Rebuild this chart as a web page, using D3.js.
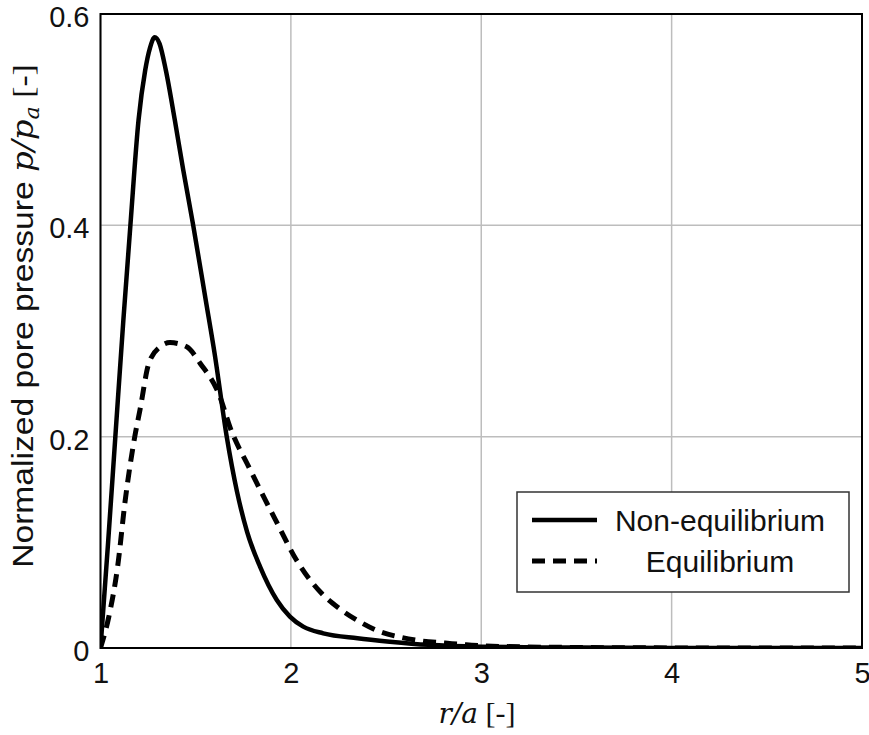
<!DOCTYPE html>
<html>
<head>
<meta charset="utf-8">
<script src="https://cdn.jsdelivr.net/npm/d3@7"></script>
<style>
  body { margin: 0; background: #fff; }
  svg { display: block; }
</style>
</head>
<body>
<div class="chart"></div>
<script>
// data
const xTicks = [1, 2, 3, 4, 5];
const yTicks = [0, 0.2, 0.4, 0.6];
const yTickLabels = ['0', '0.2', '0.4', '0.6'];

const rNonEq = [1, 1.04, 1.078, 1.12, 1.157, 1.2, 1.235, 1.26, 1.285, 1.31, 1.343, 1.39, 1.435, 1.487,
  1.553, 1.6, 1.663, 1.717, 1.77, 1.838, 1.926, 1.995, 2.065, 2.17, 2.35, 2.52, 2.72, 3.0, 3.5, 4, 5];
const pNonEq = [0, 0.1, 0.2, 0.31, 0.4, 0.5, 0.547, 0.568, 0.578, 0.572, 0.547, 0.5, 0.452, 0.4,
  0.329, 0.278, 0.2, 0.148, 0.11, 0.077, 0.0454, 0.0297, 0.0202, 0.0139, 0.0092, 0.006, 0.003, 0.0012, 0.0004, 0.0001, 0];

const rEq = [1, 1.043, 1.09, 1.13, 1.18, 1.207, 1.254, 1.313, 1.365, 1.453, 1.523, 1.627, 1.68, 1.78,
  1.92, 2.03, 2.16, 2.25, 2.36, 2.46, 2.58, 2.69, 2.81, 2.92, 3.1, 3.5, 4, 5];
const pEq = [0, 0.029, 0.077, 0.14, 0.2, 0.225, 0.2695, 0.285, 0.289, 0.285, 0.2695, 0.238, 0.209, 0.171,
  0.121, 0.083, 0.052, 0.038, 0.025, 0.016, 0.010, 0.0066, 0.0047, 0.003, 0.0015, 0.0005, 0.0001, 0];

const seriesNames = ['Non-equilibrium', 'Equilibrium'];

const Width = 869;
const Height = 735;
const plotL = 100.5, plotR = 862, plotT = 14, plotB = 648;

const X = d3.scaleLinear().domain([1, 5]).range([plotL, plotR]);
const Y = d3.scaleLinear().domain([0, 0.6]).range([plotB, plotT]);

const svg = d3.select('.chart').append('svg').attr('width', Width).attr('height', Height);

svg.append('clipPath').attr('id', 'plot-clip').append('rect')
  .attr('x', plotL).attr('y', plotT).attr('width', plotR - plotL).attr('height', plotB - plotT);

// grid
const grid = svg.append('g');
grid.selectAll('.gx').data(xTicks).enter().append('line')
  .attr('x1', d => X(d)).attr('x2', d => X(d)).attr('y1', plotT).attr('y2', plotB)
  .attr('stroke', '#bdbdbd').attr('stroke-width', 1.5);
grid.selectAll('.gy').data(yTicks).enter().append('line')
  .attr('x1', plotL).attr('x2', plotR).attr('y1', d => Y(d)).attr('y2', d => Y(d))
  .attr('stroke', '#bdbdbd').attr('stroke-width', 1.5);

// axes (tick labels only, frame drawn separately)
const xAxis = svg.append('g').attr('transform', 'translate(0,' + plotB + ')')
  .call(d3.axisBottom(X).tickValues(xTicks).tickSize(0).tickPadding(14).tickFormat(d3.format('d')));
const yAxis = svg.append('g').attr('transform', 'translate(' + plotL + ',0)')
  .call(d3.axisLeft(Y).tickValues(yTicks).tickSize(0).tickPadding(11).tickFormat((d, i) => yTickLabels[i]));
[xAxis, yAxis].forEach(a => {
  a.select('.domain').remove();
  a.selectAll('text').attr('font-family', 'Liberation Sans, Arial, sans-serif').attr('font-size', 29).attr('fill', '#111');
});
xAxis.selectAll('text').attr('dy', '0.71em');
yAxis.selectAll('text').attr('dy', '0.43em');

// curves
const line = d3.line().x(d => X(d[0])).y(d => Y(d[1])).curve(d3.curveMonotoneX);
const plot = svg.append('g').attr('clip-path', 'url(#plot-clip)');
plot.append('path').datum(d3.zip(rEq, pEq)).attr('d', line)
  .attr('fill', 'none').attr('stroke', '#000').attr('stroke-width', 5).attr('stroke-dasharray', '13,8');
plot.append('path').datum(d3.zip(rNonEq, pNonEq)).attr('d', line)
  .attr('fill', 'none').attr('stroke', '#000').attr('stroke-width', 4.5).attr('stroke-linejoin', 'round');

// frame
svg.append('rect').attr('x', plotL).attr('y', plotT).attr('width', plotR - plotL).attr('height', plotB - plotT)
  .attr('fill', 'none').attr('stroke', '#000').attr('stroke-width', 2);

// legend
const lg = svg.append('g');
lg.append('rect').attr('x', 517).attr('y', 492).attr('width', 332).attr('height', 100)
  .attr('fill', '#fff').attr('stroke', '#333').attr('stroke-width', 1.5);
const rows = lg.selectAll('.row').data(seriesNames).enter().append('g')
  .attr('transform', (d, i) => 'translate(0,' + (520 + i * 41) + ')');
rows.append('line').attr('x1', 532).attr('x2', 597).attr('y1', 0).attr('y2', 0)
  .attr('stroke', '#000').attr('stroke-width', (d, i) => i === 0 ? 4.5 : 5)
  .attr('stroke-dasharray', (d, i) => i === 0 ? null : '13,8');
rows.append('text').attr('x', 720).attr('y', 0).attr('dy', '0.35em').attr('text-anchor', 'middle')
  .attr('font-family', 'Liberation Sans, Arial, sans-serif').attr('font-size', 30).attr('fill', '#111')
  .text(d => d);

// axis titles
const xt = svg.append('text').attr('x', 477).attr('y', 723).attr('text-anchor', 'middle')
  .attr('font-family', 'DejaVu Serif, serif').attr('font-size', 28).attr('fill', '#111');
xt.append('tspan').attr('font-style', 'italic').text('r/a');
xt.append('tspan').attr('font-family', 'Liberation Serif, serif').attr('font-size', 30).text(' [-]');

const yt = svg.append('text').attr('transform', 'translate(33,316) rotate(-90) scale(1.12,1)').attr('text-anchor', 'middle')
  .attr('font-family', 'Liberation Sans, Arial, sans-serif').attr('font-size', 30).attr('fill', '#111');
yt.append('tspan').text('Normalized pore pressure ');
yt.append('tspan').attr('font-family', 'DejaVu Serif, serif').attr('font-style', 'italic').attr('font-size', 29).text('p/p');
yt.append('tspan').attr('font-family', 'DejaVu Serif, serif').attr('font-style', 'italic').attr('font-size', 20)
  .attr('dy', 6).text('a');
yt.append('tspan').attr('font-family', 'Liberation Serif, serif').attr('font-size', 30).attr('dy', -6).text(' [-]');
</script>
</body>
</html>
